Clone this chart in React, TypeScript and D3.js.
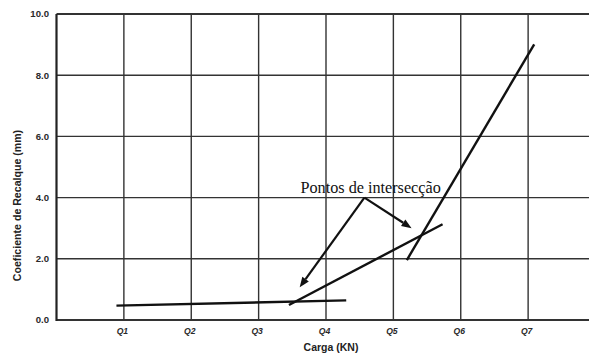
import React from "react";
import * as d3 from "d3";

// Load steps on the x axis and settlement coefficient ticks on the y axis
const xTickLabels = ["Q1", "Q2", "Q3", "Q4", "Q5", "Q6", "Q7"];
const xTickValues = [1, 2, 3, 4, 5, 6, 7];
const yTickValues = [0, 2, 4, 6, 8, 10];

// Straight trend segments in data units
const segmentStarts = [
  [0.89, 0.47],
  [3.45, 0.49],
  [5.2, 1.96],
];
const segmentEnds = [
  [4.3, 0.64],
  [5.73, 3.13],
  [7.09, 9.01],
];

// Annotation: label origin and the two intersection arrow tips
const annotationText = "Pontos de intersecção";
const annotationOrigin = [4.57, 4.0];
const arrowTips = [
  [3.61, 1.07],
  [5.27, 3.0],
];

const W = 589;
const H = 356;

export default function App() {
  const x = d3.scaleLinear().domain([0, 8]).range([56.5, 595.5]);
  const y = d3.scaleLinear().domain([0, 10]).range([320, 14]);

  const gridColor = "#333";
  const ink = "#111";

  const arrowLines = arrowTips.map(([tx, ty]) => {
    const x0 = x(annotationOrigin[0]);
    const y0 = y(annotationOrigin[1]);
    const x1 = x(tx);
    const y1 = y(ty);
    const ang = Math.atan2(y1 - y0, x1 - x0);
    const len = 10;
    const half = 4;
    const bx = x1 - len * Math.cos(ang);
    const by = y1 - len * Math.sin(ang);
    const p1 = [bx + half * Math.sin(ang), by - half * Math.cos(ang)];
    const p2 = [bx - half * Math.sin(ang), by + half * Math.cos(ang)];
    return { x0, y0, x1, y1, bx, by, head: `${x1},${y1} ${p1[0]},${p1[1]} ${p2[0]},${p2[1]}` };
  });

  return (
    <div style={{ position: "fixed", left: 0, top: 0, width: W, height: H, background: "#fff" }}>
      <svg width={W} height={H} style={{ display: "block" }}>
        <rect width={W} height={H} fill="#fff" />
        {/* horizontal grid lines */}
        {yTickValues.map((v) => (
          <line
            key={"h" + v}
            x1={x(0)}
            x2={x(8)}
            y1={y(v)}
            y2={y(v)}
            stroke={gridColor}
            strokeWidth={v === 0 ? 2.2 : v === 10 ? 1.8 : 1.4}
          />
        ))}
        {/* vertical grid lines */}
        {xTickValues.map((v) => (
          <line
            key={"v" + v}
            x1={x(v)}
            x2={x(v)}
            y1={y(10)}
            y2={y(0)}
            stroke={gridColor}
            strokeWidth={1.4}
          />
        ))}
        {/* y axis */}
        <line x1={x(0)} x2={x(0)} y1={y(10)} y2={y(0) + 1} stroke="#222" strokeWidth={2.2} />

        {/* y tick labels */}
        {yTickValues.map((v) => (
          <text
            key={"yt" + v}
            x={x(0) - 7.5}
            y={y(v) + 3.4}
            textAnchor="end"
            fontFamily="'Liberation Sans', Arial, sans-serif"
            fontWeight="bold"
            fontSize={9.6}
            fill="#2a2a2a"
          >
            {d3.format(".1f")(v)}
          </text>
        ))}
        {/* x tick labels */}
        {xTickValues.map((v, i) => (
          <text
            key={"xt" + v}
            x={x(v) - 1.5}
            y={333.5}
            textAnchor="middle"
            fontFamily="'Liberation Sans', Arial, sans-serif"
            fontWeight="bold"
            fontStyle="italic"
            fontSize={8.6}
            fill="#2a2a2a"
          >
            {xTickLabels[i]}
          </text>
        ))}

        {/* axis titles */}
        <text
          x={331}
          y={350.5}
          textAnchor="middle"
          fontFamily="'Liberation Sans', Arial, sans-serif"
          fontWeight="bold"
          fontSize={10.5}
          fill="#222"
        >
          Carga (KN)
        </text>
        <text
          transform="translate(20.5,205.5) rotate(-90)"
          textAnchor="middle"
          fontFamily="'Liberation Sans', Arial, sans-serif"
          fontWeight="bold"
          fontSize={10.6}
          fill="#222"
        >
          Coeficiente de Recalque (mm)
        </text>

        {/* trend segments */}
        {segmentStarts.map((s, i) => (
          <line
            key={"s" + i}
            x1={x(s[0])}
            y1={y(s[1])}
            x2={x(segmentEnds[i][0])}
            y2={y(segmentEnds[i][1])}
            stroke={ink}
            strokeWidth={2.4}
          />
        ))}

        {/* annotation */}
        <text
          x={300.5}
          y={192.5}
          fontFamily="'Liberation Serif', 'Times New Roman', serif"
          fontSize={16.2}
          fill={ink}
        >
          {annotationText}
        </text>
        {arrowLines.map((a, i) => (
          <g key={"a" + i}>
            <line x1={a.x0} y1={a.y0} x2={a.bx} y2={a.by} stroke={ink} strokeWidth={2.2} />
            <polygon points={a.head} fill={ink} />
          </g>
        ))}
      </svg>
    </div>
  );
}
